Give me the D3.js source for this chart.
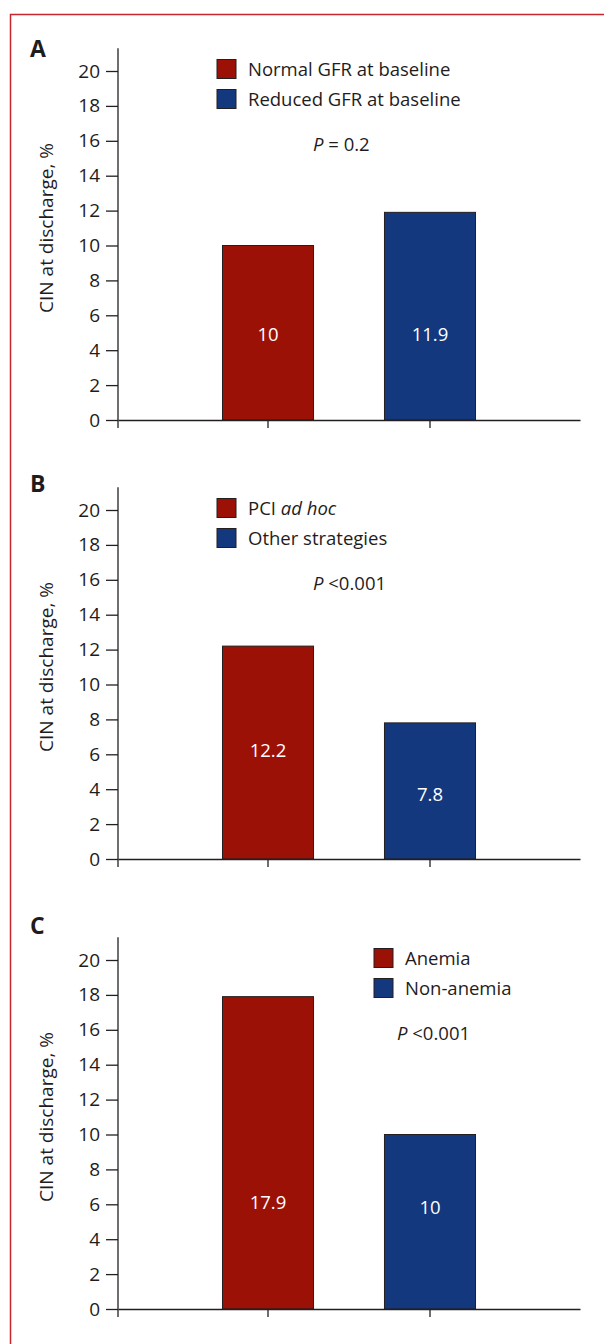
<!DOCTYPE html>
<html>
<head>
<meta charset="utf-8">
<script src="https://cdn.jsdelivr.net/npm/d3@7"></script>
<style>
  body { margin: 0; background: #fff; }
  text { font-family: "Open Sans", "Noto Sans", sans-serif; fill: #1f1c1d; }
</style>
</head>
<body>
<svg id="chart"></svg>
<script>
// values
const panelLetters = ['A', 'B', 'C'];
const groupsA = ['Normal GFR at baseline', 'Reduced GFR at baseline'];
const valuesA = [10, 11.9];
const groupsB = ['PCI ad hoc', 'Other strategies'];
const valuesB = [12.2, 7.8];
const groupsC = ['Anemia', 'Non-anemia'];
const valuesC = [17.9, 10];
const pValues = ['= 0.2', '<0.001', '<0.001'];
// where the white numbers sit inside the bars (in % units)
const labelAt = [[4.9, 4.9], [6.2, 3.7], [6.1, 5.8]];
const yTicks = d3.range(0, 21, 2);
const yTitle = 'CIN at discharge, %';
const italicPart = 'ad hoc';

const colors = ['#9b1106', '#14387e'];
const ink = '#231f20';

const width = 604, height = 1344;
const svg = d3.select('#chart').attr('width', width).attr('height', height);

// red frame, top and left only
svg.append('path')
  .attr('d', 'M10.5,' + height + 'V14.5H' + width)
  .attr('fill', 'none')
  .attr('stroke', '#c8272d')
  .attr('stroke-width', 1.5);

const panels = [
  { groups: groupsA, values: valuesA, dy: 0,   letterY: 57, legendX: 217, pX: 313 },
  { groups: groupsB, values: valuesB, dy: 439, letterY: 53, legendX: 217, pX: 313 },
  { groups: groupsC, values: valuesC, dy: 889, letterY: 45, legendX: 374, pX: 397 }
];

const y = d3.scaleLinear().domain([0, 20]).range([420, 71]);
const x = d3.scaleBand().domain([0, 1]).range([118, 580])
  .paddingInner(0.438).paddingOuter(0.645);

panels.forEach((p, i) => {
  const g = svg.append('g').attr('transform', 'translate(0,' + p.dy + ')');

  g.append('text')
    .attr('x', 30).attr('y', p.letterY)
    .attr('font-size', 23).attr('font-weight', 'bold')
    .text(panelLetters[i]);

  // bars
  g.selectAll('rect.bar')
    .data(p.values)
    .join('rect')
    .attr('class', 'bar')
    .attr('x', (d, j) => x(j))
    .attr('y', d => y(d))
    .attr('width', x.bandwidth())
    .attr('height', d => y(0) - y(d))
    .attr('fill', (d, j) => colors[j])
    .attr('stroke', ink)
    .attr('stroke-width', 1);

  g.selectAll('text.val')
    .data(p.values)
    .join('text')
    .attr('class', 'val')
    .attr('x', (d, j) => x(j) + x.bandwidth() / 2)
    .attr('y', (d, j) => y(labelAt[i][j]))
    .attr('dy', '0.35em')
    .attr('text-anchor', 'middle')
    .attr('font-size', 18.5)
    .style('fill', '#fff')
    .text(d => d);

  // y axis
  const yAxis = g.append('g')
    .attr('transform', 'translate(118,0)')
    .call(d3.axisLeft(y).tickValues(yTicks).tickSize(12).tickPadding(6).tickSizeOuter(0));
  yAxis.select('.domain').remove();
  yAxis.selectAll('.tick line').attr('stroke', ink).attr('stroke-width', 1.3);
  yAxis.selectAll('.tick text').attr('font-size', 19).attr('font-family', null);
  g.append('line')
    .attr('x1', 118).attr('x2', 118)
    .attr('y1', y(21.3)).attr('y2', y(0) + 8)
    .attr('stroke', ink).attr('stroke-width', 1.3);

  // x axis
  const xAxis = g.append('g')
    .attr('transform', 'translate(0,' + y(0) + ')')
    .call(d3.axisBottom(x).tickSize(8).tickSizeOuter(0).tickFormat(''));
  xAxis.selectAll('path, line').attr('stroke', ink).attr('stroke-width', 1.3);

  g.append('text')
    .attr('transform', 'translate(53,' + (y(0) - 192) + ') rotate(-90)')
    .attr('text-anchor', 'middle')
    .attr('font-size', 19)
    .text(yTitle);

  // legend
  const leg = g.selectAll('g.leg')
    .data(p.groups)
    .join('g')
    .attr('class', 'leg')
    .attr('transform', (d, j) => 'translate(' + p.legendX + ',' + (y(20) - 2 + j * 30) + ')');
  leg.append('rect')
    .attr('x', 0).attr('y', -9.5)
    .attr('width', 19).attr('height', 19)
    .attr('fill', (d, j) => colors[j])
    .attr('stroke', ink).attr('stroke-width', 1);
  leg.append('text')
    .attr('x', 31).attr('dy', '0.36em')
    .attr('font-size', 18.5)
    .each(function (d) {
      const t = d3.select(this);
      const k = d.indexOf(italicPart);
      if (k < 0) { t.text(d); return; }
      t.append('tspan').text(d.slice(0, k));
      t.append('tspan').attr('font-style', 'italic').text(italicPart);
    });

  const pt = g.append('text')
    .attr('x', p.pX).attr('y', 151)
    .attr('font-size', 18.5);
  pt.append('tspan').attr('font-style', 'italic').text('P');
  pt.append('tspan').text(' ' + pValues[i]);
});
</script>
</body>
</html>
